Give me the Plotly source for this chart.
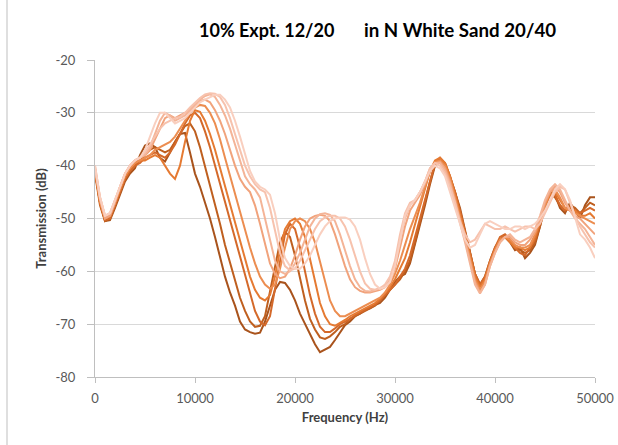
import plotly.graph_objects as go

# Frequency sampling of every trace (Hz)
freq_hz = list(range(0, 50001, 500))

# Transmission (dB), one list per trace (darkest -> lightest)
tx_1 = [-41, -47, -50.5, -50.3, -48, -45.5, -43, -41.5, -40.5, -38,
        -36.2, -35.8, -36.5, -38.5, -39.2, -37.5, -35.5, -34, -33.8, -37.5,
        -41.5, -44, -47, -50, -53.5, -57.5, -61, -64, -66.5, -69.5,
        -71, -71.5, -71.8, -71.6, -69.5, -66.5, -63.5, -62, -62.2, -63.5,
        -65.5, -68, -70, -72, -73.8, -75.3, -74.8, -74.3, -73, -71.5,
        -70.2, -69.5, -68.5, -68, -67.3, -67, -66.4, -66, -65, -63.5,
        -62, -61, -60.5, -58.5, -55, -51, -47.5, -43.5, -40, -39,
        -39.8, -42.5, -45, -48, -52, -56.5, -60.5, -62.5, -61, -58,
        -55.5, -54, -53.5, -54.5, -56, -55.5, -57.5, -56.5, -55, -51.5,
        -47.5, -45, -45.5, -48, -49, -47, -48.5, -50, -47.5, -46,
        -46]
tx_2 = [-41.5, -47.5, -50.5, -50, -47.5, -45, -42.5, -41, -40, -39,
        -38, -37, -36.5, -37, -37.5, -37, -35.5, -34, -32.5, -32,
        -33.5, -36.5, -40, -43.5, -47, -51, -55, -58.5, -62, -65,
        -67.5, -69.5, -70.5, -70.3, -68.5, -64, -59, -54.5, -52.5, -53.5,
        -57, -61.5, -65.5, -69, -71, -72.5, -72.8, -72.3, -71.5, -70.5,
        -70, -69, -68.5, -68, -67.5, -67, -66.5, -65.5, -64.5, -63.5,
        -62.5, -61.5, -60, -58, -54.5, -50.5, -46.5, -43, -39.8, -38.8,
        -39.5, -42, -45, -48.5, -52.5, -56.5, -60.5, -62.8, -61.5, -58.5,
        -56, -54, -53.2, -54, -55.5, -56, -56.5, -56, -54.5, -51.5,
        -48, -45.5, -46, -47.5, -48.5, -47.5, -48, -49, -48, -47,
        -47.5]
tx_3 = [-41, -47, -50.3, -50, -47.5, -45, -42.5, -41, -40, -39.5,
        -38.5, -38, -37.5, -38, -38.5, -37.5, -36, -34, -32, -30.5,
        -30, -31, -33.5, -36.5, -40, -43.5, -47, -50.5, -54, -57.5,
        -61, -64.5, -67.5, -69.5, -70.2, -68.5, -63.5, -58, -53, -51,
        -52, -55.5, -60, -64.5, -68, -70.5, -71.5, -71.5, -70.8, -70,
        -69.5, -69, -68.3, -67.8, -67.2, -66.8, -66.3, -65.5, -64.5, -63.5,
        -62.5, -61, -59.5, -57, -53.5, -50, -46, -42.5, -39.5, -38.5,
        -39.5, -42, -45, -48.5, -52.5, -56.5, -60.5, -62.5, -61, -58,
        -55.5, -53.5, -53, -54, -55.5, -56.5, -57, -55.5, -54, -51,
        -47.5, -45.5, -45.5, -47.5, -48.5, -48, -48.5, -49, -48.5, -48,
        -48.5]
tx_4 = [-41, -47, -50, -49.5, -47, -44.5, -42, -40.5, -39.5, -39,
        -39, -38.5, -38, -38.5, -40, -41.5, -42.5, -40, -35.5, -31.5,
        -29.5, -29.8, -31.5, -34, -37, -40.5, -44, -47.5, -51, -54.5,
        -58, -61, -63.5, -65, -65.5, -64.5, -61, -56, -52, -50.5,
        -50, -51, -53.5, -57.5, -62, -66, -68.5, -70, -70.3, -69.8,
        -69.2, -68.5, -68, -67.5, -67, -66.5, -66, -65.2, -64.2, -63,
        -61.5, -59.5, -57.5, -54.5, -51, -48, -44.5, -41, -39, -38.5,
        -39.5, -42, -45.5, -49, -53, -57, -61, -63, -61.5, -58.5,
        -56, -54, -53.5, -54.5, -55.5, -55.5, -56, -55.5, -53.5, -50.5,
        -47.5, -45.5, -45, -46.5, -48, -48.5, -48.5, -49.5, -49.5, -49,
        -50]
tx_5 = [-40.5, -46.5, -50, -49.5, -47, -44.5, -42, -40.5, -39.5, -39,
        -38.5, -38, -37, -36.5, -36, -35.5, -34.5, -33, -31.5, -30,
        -29, -28.5, -28.7, -30, -32, -35, -38.5, -42, -45.5, -49,
        -52.5, -55.5, -58.5, -61, -62.5, -63.3, -62.5, -59.5, -55.5, -52,
        -50.5, -50, -50.5, -52, -54.5, -58, -62, -65.5, -67.5, -68.5,
        -68.5, -68, -67.5, -67, -66.5, -66, -65.5, -65, -64, -62.5,
        -60.5, -58, -55, -52, -49.5, -47, -44, -41, -39.3, -39,
        -40, -42.5, -46, -49.5, -53.5, -57.5, -61.5, -63.5, -62, -58.5,
        -56, -54, -53.5, -54, -55, -55.5, -55.5, -55, -53, -50.5,
        -47.5, -45, -44.5, -46, -48, -48.5, -49, -49.5, -50, -50.5,
        -51]
tx_6 = [-40.5, -46.5, -50, -49.5, -47, -44, -41.5, -40, -39, -38.5,
        -38, -37, -35, -33, -31, -30.5, -31, -30.5, -30, -29.5,
        -28.5, -27.8, -27.5, -28, -29.5, -31.5, -34, -37, -40, -42.5,
        -44, -45, -47.5, -51, -55, -58.5, -60.5, -61.3, -61, -59.5,
        -57, -54, -51.5, -50, -49.5, -49.3, -49.5, -50.5, -53, -56,
        -59, -61.5, -63, -63.7, -64, -64, -63.8, -63.5, -63, -62,
        -59.5, -55.5, -51.5, -48.5, -47, -45.5, -43.5, -41, -39.5, -39.3,
        -40.5, -43, -46.5, -50, -54, -58, -62, -64, -62.5, -59,
        -56.5, -54.5, -53.5, -53.5, -54.5, -55, -55, -54, -52.5, -50,
        -47, -45, -44, -45, -47, -48.5, -49.5, -50, -51, -52,
        -53]
tx_7 = [-40, -46, -49.5, -49, -46.5, -44, -41.5, -40, -39, -38.5,
        -38, -36.5, -34, -31.5, -30, -30.5, -31.5, -31, -30.5, -29.5,
        -28.5, -27.5, -26.8, -26.5, -27, -28.5, -30.5, -33, -36, -39,
        -42, -43.5, -44.5, -46, -50, -54.5, -58, -60, -60.5, -60,
        -58.5, -56.5, -54, -51.5, -50, -49.2, -49, -49.3, -50.5, -53,
        -56, -59, -61.5, -63, -63.7, -63.8, -63.5, -63.2, -62.8, -61.5,
        -58.5, -54, -50, -47.5, -46.5, -45, -43, -40.5, -39.5, -39.5,
        -41, -43.5, -47, -50.5, -54.5, -58.5, -62.5, -64.2, -62.5, -59,
        -56.5, -54.5, -53.5, -53, -54, -54.5, -54, -53.5, -52, -49.5,
        -46.5, -44.5, -43.5, -44.5, -46.5, -48.5, -50, -51, -52, -53.5,
        -55]
tx_8 = [-40.5, -46, -49.5, -49, -46.5, -44, -41.5, -40, -39, -38.5,
        -37.5, -36, -34.5, -33, -32, -31.5, -31, -30.8, -30, -29,
        -28, -27.2, -26.5, -26.3, -26.4, -27, -28.5, -31, -34, -37,
        -40, -42, -43.5, -44.5, -45, -48, -52.5, -56.5, -59, -59.8,
        -59.5, -58, -56, -54, -52, -50.5, -49.8, -49.5, -49.5, -50,
        -51.5, -54, -57, -60, -62.3, -63.3, -63.5, -63.2, -62.5, -61,
        -58, -53, -49, -47, -46.5, -45, -43, -40.5, -39.5, -40,
        -41.5, -44, -47, -50.5, -53, -54.5, -54, -52.5, -51, -51.5,
        -52, -52, -51.5, -52, -52.5, -52, -51.5, -51.5, -52, -51,
        -49, -47, -45, -44, -44.5, -47, -49.5, -51.5, -53, -54.5,
        -55.5]
tx_9 = [-40, -46, -49.5, -49, -46.5, -44, -41.5, -40, -39, -38.5,
        -37, -34.5, -32, -30, -30, -31, -32, -31.5, -31, -30,
        -29, -28, -27.5, -27, -26.6, -26.6, -27.5, -29, -31.5, -34.5,
        -38, -41, -43, -44, -44.5, -45.5, -49, -54, -57.5, -59,
        -59.5, -59.5, -58.5, -57, -55, -53, -51.5, -50.5, -50, -49.8,
        -49.8, -50.2, -51.5, -54, -57.5, -60.5, -62.5, -63.3, -63, -62,
        -59, -54, -49.5, -47.5, -46.5, -45, -43, -41, -40, -40.5,
        -42, -45, -48, -51, -54, -55.5, -55, -53, -51, -50.5,
        -51, -51.5, -52, -52, -51.5, -51.5, -52, -51.5, -51, -50,
        -48.5, -46.5, -44.5, -43.5, -44.5, -46.5, -50, -53, -54, -55.5,
        -57.5]

series = [tx_1, tx_2, tx_3, tx_4, tx_5, tx_6, tx_7, tx_8, tx_9]
colors = ["#a9531c", "#bf5f1f", "#d4692a", "#e57a32", "#ec8d50",
          "#f1a37c", "#f4b497", "#f7c2ad", "#f9cfbf"]

x_ticks = [0, 10000, 20000, 30000, 40000, 50000]
y_ticks = [-80, -70, -60, -50, -40, -30, -20]

fig = go.Figure()
for vals, col in zip(series, colors):
    fig.add_trace(go.Scatter(x=freq_hz, y=vals, mode="lines",
                             line=dict(color=col, width=2),
                             showlegend=False, hoverinfo="skip"))

font_family = "Lato, 'Open Sans', sans-serif"
fig.update_layout(
    width=618, height=445,
    margin=dict(l=95, r=23, t=60, b=68),
    paper_bgcolor="white", plot_bgcolor="white",
    font=dict(family=font_family, color="#595959", size=13),
    xaxis=dict(range=[0, 50000], tickvals=x_ticks,
               ticktext=[str(v) for v in x_ticks],
               showgrid=False, zeroline=False, automargin=False,
               showline=True, linecolor="#bfbfbf", linewidth=1,
               ticks="outside", ticklen=5, tickcolor="#bfbfbf",
               ticklabelstandoff=4,
               title=dict(text="<b>Frequency (Hz)</b>",
                          font=dict(size=13, color="#404040"), standoff=8)),
    yaxis=dict(range=[-80, -20], tickvals=y_ticks,
               ticktext=[str(v) for v in y_ticks],
               showgrid=True, gridcolor="#d9d9d9", gridwidth=1,
               zeroline=False, automargin=False,
               showline=True, linecolor="#bfbfbf", linewidth=1,
               ticks="outside", ticklen=7, tickcolor="#bfbfbf",
               ticklabelstandoff=9,
               title=dict(text="<b>Transmission (dB)</b>",
                          font=dict(size=13, color="#404040"), standoff=5)),
)

fig.add_annotation(text="<b>10% Expt. 12/20</b>", xref="paper", yref="paper",
                   x=0.204, y=1.095, xanchor="left", yanchor="middle",
                   showarrow=False, font=dict(size=18, color="#000000"))
fig.add_annotation(text="<b>in N White Sand 20/40</b>", xref="paper", yref="paper",
                   x=0.534, y=1.095, xanchor="left", yanchor="middle",
                   showarrow=False, font=dict(size=18.7, color="#000000"))

fig.add_shape(type="line", xref="paper", yref="paper",
              x0=-0.176, x1=-0.176, y0=-0.22, y1=1.2,
              line=dict(color="#bfbfbf", width=1))

fig.write_html("out.html", config={"displayModeBar": False},
               post_script="document.body.style.margin='0';document.body.style.padding='0';")
